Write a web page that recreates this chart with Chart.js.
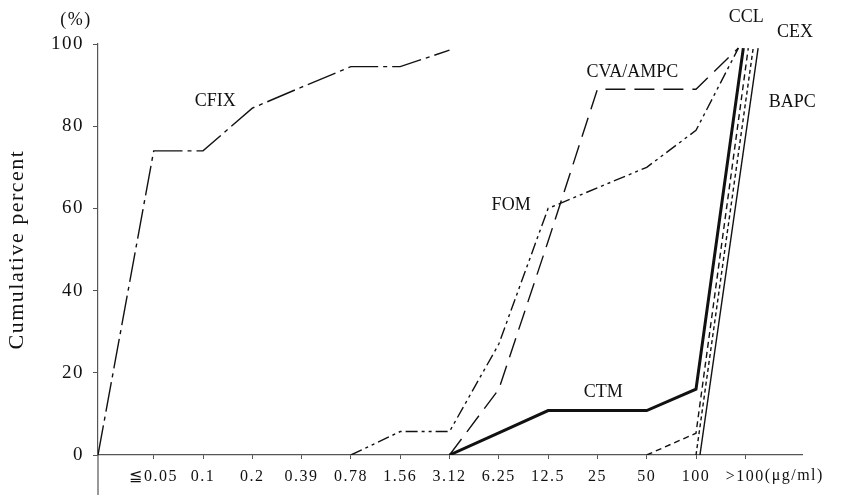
<!DOCTYPE html>
<html>
<head>
<meta charset="utf-8">
<script src="https://cdn.jsdelivr.net/npm/chart.js@4.4.1/dist/chart.umd.min.js"></script>
<style>html, body { margin: 0; background: #fff; }</style>
</head>
<body>
<canvas id="myChart" width="842" height="498"></canvas>
<script>
// MIC categories (µg/ml) on the x axis
const categories = ['≦0.05', '0.1', '0.2', '0.39', '0.78', '1.56', '3.12', '6.25', '12.5', '25', '50', '100', '>100'];
const yTicks = [0, 20, 40, 60, 80, 100];

// cumulative percent per category (null = not plotted)
const cfixStart = 0;
const cfix = [74, 74, 84.4, 89.5, 94.5, 94.5, 98.5, null, null, null, null, null, null];
const fom = [null, null, null, null, 0, 5.7, 5.7, 27, 60, 65, 70, 79, 99];
const cvaAmpc = [null, null, null, null, null, null, 0, 16, 52, 89, 89, 89, 99];
const ctm = [null, null, null, null, null, null, 0, 5.4, 10.8, 10.8, 10.8, 16, 99];
const ccl = [null, null, null, null, null, null, null, null, null, null, 0, 5.3, 99];
const cex = [null, null, null, null, null, null, null, null, null, null, null, 0, 99];
const bapc = [null, null, null, null, null, null, null, null, null, null, null, 0, 99];

const X_MIN = -1.13;
const X_MAX = 13.15;
const SERIF = '"Liberation Serif", "DejaVu Serif", serif';
const INK = '#111';
const AXIS = '#555';

// lines bunch up at the right edge, so each one leans a bit
const toPoints = (values, lean = 0, baseShift = 0) => {
  const last = values.length - 1;
  return values
    .map((v, i) => {
      if (v === null) return null;
      let dx = 0;
      if (i === last) dx = lean;
      else if (i === last - 1) dx = baseShift;
      return { x: i + dx, y: v };
    })
    .filter(Boolean);
};

const line = (label, data, dash, width = 1.4) => ({
  label,
  data,
  borderColor: INK,
  borderWidth: width,
  borderDash: dash,
  borderCapStyle: 'butt',
  pointRadius: 0,
  tension: 0,
  fill: false,
});

const curveLabels = [
  { text: 'CFIX', x: 1.25, y: 86 },
  { text: 'CVA/AMPC', x: 9.71, y: 93.2 },
  { text: 'CCL', x: 12.02, y: 106.6 },
  { text: 'CEX', x: 13.01, y: 102.9 },
  { text: 'BAPC', x: 12.95, y: 85.9 },
  { text: 'FOM', x: 7.25, y: 60.8 },
  { text: 'CTM', x: 9.12, y: 15.3 },
];

// the printed axis text is set loosely, so space the letters while scales draw
const spacingPlugin = {
  id: 'axisSpacing',
  beforeDraw(chart) { chart.ctx.letterSpacing = '1.5px'; },
  beforeDatasetsDraw(chart) { chart.ctx.letterSpacing = '0px'; },
};

const labelPlugin = {
  id: 'curveLabels',
  afterDraw(chart) {
    const { ctx, chartArea } = chart;
    const xs = chart.scales.x;
    const ys = chart.scales.y;
    ctx.save();
    ctx.fillStyle = INK;
    ctx.textAlign = 'center';
    ctx.textBaseline = 'middle';
    ctx.font = `18px ${SERIF}`;
    curveLabels.forEach((l) => {
      ctx.fillText(l.text, xs.getPixelForValue(l.x), ys.getPixelForValue(l.y));
    });

    ctx.letterSpacing = '1.5px';
    ctx.font = `18px ${SERIF}`;
    ctx.fillText('(%)', chartArea.left - 22, chartArea.top - 24);

    // unit after the last tick label
    ctx.font = `16px ${SERIF}`;
    const lastX = xs.getPixelForValue(categories.length - 1);
    const w = ctx.measureText(categories[categories.length - 1]).width;
    ctx.textAlign = 'left';
    ctx.fillText('(μg/ml)', lastX + w / 2, chartArea.bottom + 21);
    ctx.letterSpacing = '0px';

    // y axis runs on below the x axis
    ctx.strokeStyle = AXIS;
    ctx.lineWidth = 1.2;
    ctx.beginPath();
    ctx.moveTo(chartArea.left, chartArea.bottom);
    ctx.lineTo(chartArea.left, chartArea.bottom + 40);
    ctx.stroke();
    ctx.restore();
  },
};

const ctx = document.getElementById('myChart').getContext('2d');
new Chart(ctx, {
  type: 'line',
  data: {
    datasets: [
      line('CFIX', [{ x: X_MIN, y: cfixStart }, ...toPoints(cfix)], [30, 5, 4, 5]),
      line('FOM', toPoints(fom, -0.14), [12, 4, 3, 4, 3, 4]),
      line('CVA/AMPC', toPoints(cvaAmpc, -0.14), [20, 9]),
      line('CCL', toPoints(ccl, 0.06), [6, 4]),
      line('CEX', toPoints(cex, 0.16), [4, 3]),
      line('BAPC', toPoints(bapc, 0.26, 0.08), []),
      line('CTM', toPoints(ctm, -0.04), [], 3),
    ],
  },
  options: {
    responsive: false,
    animation: false,
    layout: { padding: { top: 44, right: 40, left: 0, bottom: 0 } },
    plugins: {
      legend: { display: false },
      tooltip: { enabled: false },
    },
    scales: {
      x: {
        type: 'linear',
        min: X_MIN,
        max: X_MAX,
        afterBuildTicks: (axis) => {
          axis.ticks = categories.map((_, i) => ({ value: i }));
        },
        afterFit: (axis) => { axis.height = 43; },
        border: { color: AXIS, width: 1.2 },
        grid: { drawOnChartArea: false, tickLength: 4, color: AXIS },
        ticks: {
          autoSkip: false,
          maxRotation: 0,
          padding: 8,
          color: INK,
          font: { family: SERIF, size: 16 },
          callback: (value) => categories[value] ?? '',
        },
      },
      y: {
        min: 0,
        max: 100,
        afterBuildTicks: (axis) => {
          axis.ticks = yTicks.map((v) => ({ value: v }));
        },
        afterFit: (axis) => { axis.width = 98; },
        border: { color: AXIS, width: 1.2 },
        grid: { drawOnChartArea: false, tickLength: 5, color: AXIS },
        ticks: {
          padding: 9,
          color: INK,
          font: { family: SERIF, size: 19 },
        },
        title: {
          display: true,
          text: 'Cumulative percent',
          color: INK,
          font: { family: SERIF, size: 22 },
        },
      },
    },
  },
  plugins: [spacingPlugin, labelPlugin],
});
</script>
</body>
</html>
